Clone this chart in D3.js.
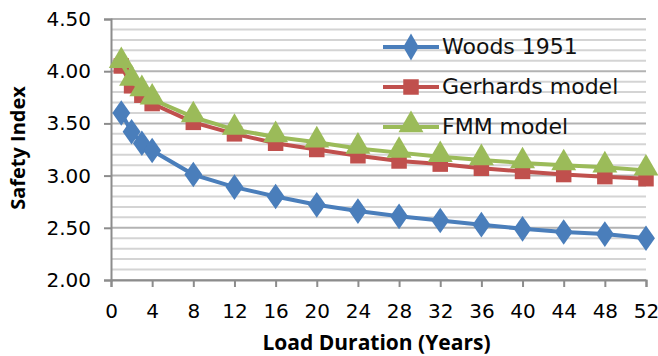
<!DOCTYPE html>
<html>
<head>
<meta charset="utf-8">
<script src="https://cdn.jsdelivr.net/npm/d3@7"></script>
<style>
  body { margin: 0; background: #fff; }
  svg { display: block; }
  .tick text { font-family: "DejaVu Sans", sans-serif; font-size: 20px; fill: #000; }
</style>
</head>
<body>
<svg width="658" height="356"></svg>
<script>
// load duration (years)
let years = [1, 2, 3, 4, 8, 12, 16, 20, 24, 28, 32, 36, 40, 44, 48, 52];
let woods = [3.60, 3.42, 3.31, 3.24, 3.01, 2.89, 2.80, 2.72, 2.66, 2.61, 2.57, 2.53, 2.49, 2.46, 2.44, 2.40];
let gerhards = [4.05, 3.86, 3.77, 3.69, 3.51, 3.40, 3.31, 3.25, 3.19, 3.14, 3.11, 3.07, 3.04, 3.01, 2.99, 2.97];
let fmm = [4.08, 3.91, 3.81, 3.73, 3.56, 3.44, 3.37, 3.32, 3.26, 3.22, 3.18, 3.15, 3.12, 3.10, 3.08, 3.05];
let xTicks = [0, 4, 8, 12, 16, 20, 24, 28, 32, 36, 40, 44, 48, 52];
let yTicks = [2.0, 2.5, 3.0, 3.5, 4.0, 4.5];
let seriesNames = ["Woods 1951", "Gerhards model", "FMM model"];

let svg = d3.select("svg"),
  margin = {top: 19, right: 12, bottom: 76, left: 111},
  width = +svg.attr("width") - margin.left - margin.right,
  height = +svg.attr("height") - margin.top - margin.bottom;

let x = d3.scaleLinear().domain([0, 52]).range([0, width]),
  y = d3.scaleLinear().domain([2, 4.5]).range([height, 0]);

let g = svg.append("g")
  .attr("transform", "translate(" + margin.left + "," + margin.top + ")");

// gridlines every 0.1, darker on the major ones
g.append("g")
  .selectAll("line")
  .data(d3.range(20, 46).map(function(d) { return d / 10; }))
  .enter().append("line")
    .attr("x1", 0)
    .attr("x2", width)
    .attr("y1", function(d) { return y(d); })
    .attr("y2", function(d) { return y(d); })
    .attr("stroke", function(d) { return Math.abs(d * 2 - Math.round(d * 2)) < 1e-6 ? "#b3b3b3" : "#d4d4d4"; })
    .attr("stroke-width", 2);

g.append("g")
  .attr("class", "axis axis--x")
  .attr("transform", "translate(0," + height + ")")
  .call(d3.axisBottom(x).tickValues(xTicks).tickSize(7).tickPadding(17).tickFormat(d3.format("d")))
  .call(function(a) {
    a.select(".domain").attr("stroke", "#8c8c8c").attr("stroke-width", 2);
    a.selectAll(".tick line").attr("stroke", "#8c8c8c").attr("stroke-width", 2);
  });

g.append("g")
  .attr("class", "axis axis--y")
  .call(d3.axisLeft(y).tickValues(yTicks).tickSize(7).tickPadding(13).tickFormat(d3.format(".2f")))
  .call(function(a) {
    a.select(".domain").attr("stroke", "#8c8c8c").attr("stroke-width", 2);
    a.selectAll(".tick line").attr("stroke", "#8c8c8c").attr("stroke-width", 2);
  });

// axis titles
svg.append("text")
  .attr("x", margin.left + x(26) - 2)
  .attr("y", 350)
  .attr("text-anchor", "middle")
  .attr("font-family", "Open Sans, sans-serif")
  .attr("font-weight", "bold")
  .attr("font-size", 21)
  .text("Load Duration (Years)");

svg.append("text")
  .attr("transform", "translate(25,148) rotate(-90)")
  .attr("text-anchor", "middle")
  .attr("font-family", "Open Sans, sans-serif")
  .attr("font-weight", "bold")
  .attr("font-size", 20)
  .text("Safety Index");

let colors = ["#4a7ebb", "#c0504d", "#9bbb59"];
let allSeries = [woods, gerhards, fmm];
let shapes = [d3.symbolDiamond, d3.symbolSquare, d3.symbolTriangle];
let sizes = [210, 240, 270];

let line = d3.line()
  .x(function(d) { return x(d[0]); })
  .y(function(d) { return y(d[1]); });

allSeries.forEach(function(vals, i) {
  let pts = years.map(function(yr, k) { return [yr, vals[k]]; });
  g.append("path")
    .datum(pts)
    .attr("fill", "none")
    .attr("stroke", colors[i])
    .attr("stroke-width", 4)
    .attr("d", line);
  g.selectAll(".m" + i)
    .data(pts)
    .enter().append("path")
      .attr("class", "m" + i)
      .attr("transform", function(d) {
        let dy = i == 2 ? -2 : 0;
        return "translate(" + x(d[0]) + "," + (y(d[1]) + dy) + ")" + (i == 0 ? " scale(1.15,0.95)" : "");
      })
      .attr("d", d3.symbol().type(shapes[i]).size(sizes[i]))
      .attr("fill", colors[i]);
});

// legend
let legend = svg.append("g").attr("transform", "translate(383,47)");
seriesNames.forEach(function(name, i) {
  let row = legend.append("g").attr("transform", "translate(0," + (i * 40) + ")");
  row.append("line")
    .attr("x1", 0).attr("x2", 56)
    .attr("stroke", colors[i]).attr("stroke-width", 4);
  row.append("path")
    .attr("transform", "translate(28," + (i == 2 ? -2 : 0) + ")")
    .attr("d", d3.symbol().type(shapes[i]).size(sizes[i]))
    .attr("fill", colors[i]);
  row.append("text")
    .attr("x", 59)
    .attr("y", 7)
    .attr("font-family", "DejaVu Sans, sans-serif")
    .attr("font-size", 22)
    .attr("fill", "#111")
    .text(name);
});
</script>
</body>
</html>
